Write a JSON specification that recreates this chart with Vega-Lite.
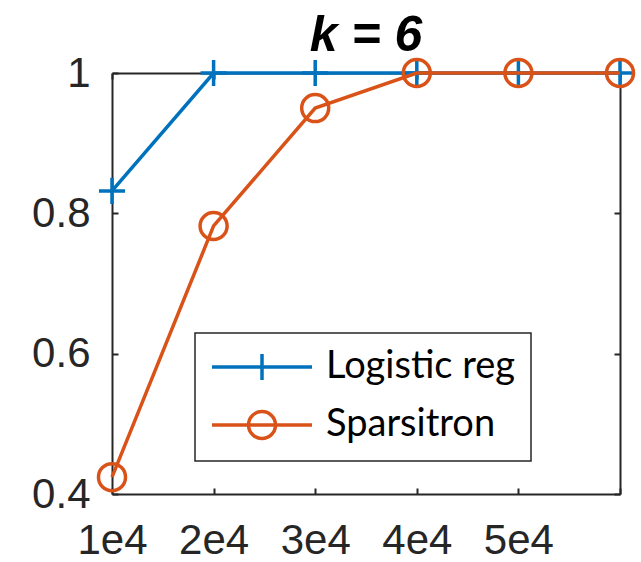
{
  "$schema": "https://vega.github.io/schema/vega-lite/v6.json",
  "width": 508,
  "height": 421,
  "autosize": {"type": "none"},
  "padding": {"left": 112, "top": 73, "right": 21, "bottom": 68},
  "background": "white",
  "title": {
    "text": "k = 6",
    "font": "Liberation Sans",
    "fontSize": 50,
    "fontWeight": "bold",
    "fontStyle": "italic",
    "color": "black",
    "offset": -9
  },
  "data": {
    "values": [
      {"n": 10000, "acc": 0.832, "method": "Logistic reg"},
      {"n": 20000, "acc": 1.0, "method": "Logistic reg"},
      {"n": 30000, "acc": 1.0, "method": "Logistic reg"},
      {"n": 40000, "acc": 1.0, "method": "Logistic reg"},
      {"n": 50000, "acc": 1.0, "method": "Logistic reg"},
      {"n": 60000, "acc": 1.0, "method": "Logistic reg"},
      {"n": 10000, "acc": 0.424, "method": "Sparsitron"},
      {"n": 20000, "acc": 0.782, "method": "Sparsitron"},
      {"n": 30000, "acc": 0.95, "method": "Sparsitron"},
      {"n": 40000, "acc": 1.0, "method": "Sparsitron"},
      {"n": 50000, "acc": 1.0, "method": "Sparsitron"},
      {"n": 60000, "acc": 1.0, "method": "Sparsitron"}
    ]
  },
  "config": {
    "view": {"stroke": null},
    "axis": {
      "grid": false,
      "domainColor": "#262626",
      "domainWidth": 2,
      "tickColor": "#262626",
      "tickWidth": 2,
      "tickSize": -6,
      "labelFont": "Liberation Sans",
      "labelFontSize": 42,
      "labelColor": "#262626",
      "labelOverlap": false,
      "labelBound": false,
      "labelFlush": false,
      "title": null
    },
    "legend": {
      "orient": "none",
      "legendX": 83,
      "legendY": 260,
      "title": null,
      "labelFont": "Lato",
      "labelFontSize": 38,
      "labelColor": "black",
      "labelLimit": 600,
      "symbolSize": 900,
      "symbolStrokeWidth": 3.5,
      "symbolOffset": 33,
      "labelOffset": 45,
      "rowPadding": 16,
      "padding": 15,
      "strokeColor": "#262626",
      "fillColor": "white"
    }
  },
  "encoding": {
    "x": {
      "field": "n",
      "type": "quantitative",
      "scale": {"domain": [10000, 60000], "nice": false, "zero": false}
    },
    "y": {
      "field": "acc",
      "type": "quantitative",
      "scale": {"domain": [0.4, 1], "nice": false, "zero": false}
    },
    "color": {
      "field": "method",
      "type": "nominal",
      "scale": {"domain": ["Logistic reg", "Sparsitron"], "range": ["#0072BD", "#D95319"]},
      "legend": {
        "encode": {
          "symbols": {
            "update": {
              "shape": {"signal": "datum.value === 'Logistic reg' ? 'M-3.333,0H3.333M0,-0.867V0.867' : 'M-3.333,0H3.333M-0.9,0A0.9,0.9,0,1,0,0.9,0A0.9,0.9,0,1,0,-0.9,0'"},
              "fill": {"value": "transparent"},
              "strokeWidth": {"value": 3.5}
            }
          },
          "labels": {
            "update": {
              "text": {"signal": "datum.value + '\u2003\u2002'"}
            }
          },
          "legend": {"update": {"strokeWidth": {"value": 1.5}}}
        }
      }
    }
  },
  "layer": [
    {
      "transform": [{"filter": "datum.method === 'Logistic reg'"}],
      "mark": {"type": "line", "strokeWidth": 3.5},
      "encoding": {
        "x": {
          "field": "n", "type": "quantitative",
          "axis": {
            "orient": "bottom",
            "values": [10000, 20000, 30000, 40000, 50000, 60000],
            "labelExpr": "datum.value >= 60000 ? '' : floor(datum.value / 10000) + 'e4'",
            "labelPadding": 32
          }
        },
        "y": {
          "field": "acc", "type": "quantitative",
          "axis": {
            "orient": "left",
            "values": [0.4, 0.6, 0.8, 1],
            "labelExpr": "datum.value >= 1 ? '1' : format(datum.value, '.1f')",
            "labelPadding": 28
          }
        }
      }
    },
    {
      "transform": [{"filter": "datum.method === 'Logistic reg'"}],
      "mark": {"type": "point", "shape": "M-1,0H1M0,-1V1", "filled": false, "strokeWidth": 3.5, "size": 680, "opacity": 1},
      "encoding": {
        "x": {"field": "n", "type": "quantitative", "axis": null},
        "y": {"field": "acc", "type": "quantitative", "axis": null}
      }
    },
    {
      "transform": [{"filter": "datum.method === 'Sparsitron'"}],
      "mark": {"type": "line", "strokeWidth": 3.5},
      "encoding": {
        "x": {"field": "n", "type": "quantitative", "axis": null},
        "y": {"field": "acc", "type": "quantitative", "axis": null}
      }
    },
    {
      "transform": [{"filter": "datum.method === 'Sparsitron'"}],
      "mark": {"type": "point", "shape": "circle", "filled": false, "strokeWidth": 3.5, "size": 730, "opacity": 1},
      "encoding": {
        "x": {"field": "n", "type": "quantitative", "axis": null},
        "y": {"field": "acc", "type": "quantitative", "axis": null}
      }
    },
    {
      "mark": {"type": "point", "opacity": 0},
      "encoding": {
        "x": {
          "field": "n", "type": "quantitative",
          "axis": {"orient": "top", "values": [10000, 20000, 30000, 40000, 50000, 60000], "labels": false}
        },
        "y": {
          "field": "acc", "type": "quantitative",
          "axis": {"orient": "right", "values": [0.4, 0.6, 0.8, 1], "labels": false}
        },
        "color": {"value": "transparent"}
      }
    }
  ],
  "resolve": {"axis": {"x": "independent", "y": "independent"}}
}
